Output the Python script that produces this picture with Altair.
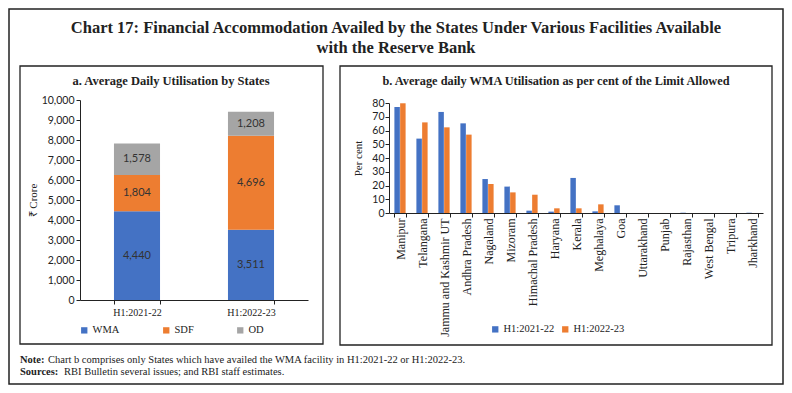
import altair as alt
import pandas as pd

# ---------------- data ----------------
periods = ["H1:2021-22", "H1:2022-23"]
facilities = ["WMA", "SDF", "OD"]
wma_values = [4440, 3511]
sdf_values = [1804, 4696]
od_values = [1578, 1208]
facility_colors = ["#4472C4", "#ED7D31", "#A5A5A5"]

states = ["Manipur", "Telangana", "Jammu and Kashmir UT", "Andhra Pradesh", "Nagaland",
          "Mizoram", "Himachal Pradesh", "Haryana", "Kerala", "Meghalaya", "Goa",
          "Uttarakhand", "Punjab", "Rajasthan", "West Bengal", "Tripura", "Jharkhand"]
pct_2021_22 = [77.1, 54.1, 73.5, 65.2, 24.7, 19.2, 1.7, 1.0, 25.5, 1.2, 5.6, 0, 0, 0.2, 0, 0, 0.2]
pct_2022_23 = [79.8, 65.9, 62.3, 57.0, 21.1, 15.0, 13.3, 3.4, 3.4, 6.3, 0, 0, 0, 0, 0, 0, 0]
series = ["H1:2021-22", "H1:2022-23"]
series_colors = ["#4472C4", "#ED7D31"]

title_lines = ["Chart 17: Financial Accommodation Availed by the States Under Various Facilities Available",
               "with the Reserve Bank"]
panel_a_title = "a. Average Daily Utilisation by States"
panel_b_title = "b. Average daily WMA Utilisation as per cent of the Limit Allowed"
note_label = "Note:"
note_text = "Chart b comprises only States which have availed the WMA facility in H1:2021-22 or H1:2022-23."
source_label = "Sources:"
source_text = "RBI Bulletin several issues; and RBI staff estimates."

SERIF = "Liberation Serif"
SANS = "Lato"
INK = "#222222"

# ---------------- tables ----------------
rows_a = []
for i, p in enumerate(periods):
    for j, (f, vals) in enumerate(zip(facilities, [wma_values, sdf_values, od_values])):
        rows_a.append({"period": p, "facility": f, "idx": j, "value": vals[i]})
df_a = pd.DataFrame(rows_a)

rows_b = []
for i, s in enumerate(states):
    rows_b.append({"state": s, "series": series[0], "pct": pct_2021_22[i]})
    rows_b.append({"state": s, "series": series[1], "pct": pct_2022_23[i]})
df_b = pd.DataFrame(rows_b)

one = pd.DataFrame({"k": [0]})


def frame(x, x2, y, y2, sw=1.3):
    return alt.Chart(one).mark_rect(fillOpacity=0, stroke=INK, strokeWidth=sw).encode(
        x=alt.value(x), x2=alt.value(x2), y=alt.value(y), y2=alt.value(y2))


def label(txt, x, y, size, bold=False, align="center", font=SERIF):
    return alt.Chart(one).mark_text(
        text=txt, font=font, fontSize=size, fontWeight="bold" if bold else "normal",
        align=align, baseline="middle", color=INK).encode(x=alt.value(x), y=alt.value(y))


# ---------------- panel a ----------------
WA, HA = 228, 200

x_axis_a = alt.Axis(title=None, labelAngle=0, tickBand="extent", labelFont=SERIF,
                    labelFontSize=10, labelColor=INK, domainColor=INK, tickColor=INK,
                    tickSize=4, labelPadding=3)
y_axis_a = alt.Axis(title="₹ Crore", values=list(range(0, 10001, 1000)), format=",.0f",
                    grid=False, labelFont=SANS, labelFontSize=10.5, labelColor=INK,
                    domainColor=INK, tickColor=INK, tickSize=4, labelPadding=2,
                    titleFont=SERIF, titleFontSize=11, titleFontWeight="normal",
                    titleColor=INK, titlePadding=3)
x_scale_a = alt.Scale(paddingInner=0.596, paddingOuter=0.298)
y_scale_a = alt.Scale(domain=[0, 10000], nice=False)

bars_a = alt.Chart(df_a).mark_bar().encode(
    x=alt.X("period:N", sort=periods, scale=x_scale_a, axis=x_axis_a),
    y=alt.Y("value:Q", stack="zero", scale=y_scale_a, axis=y_axis_a),
    color=alt.Color("facility:N", scale=alt.Scale(domain=facilities, range=facility_colors),
                    legend=alt.Legend(title=None, orient="none", legendX=-1, legendY=225,
                                      direction="horizontal", symbolType="square",
                                      symbolSize=40, symbolStrokeWidth=0, labelFont=SERIF,
                                      labelFontSize=10.5, labelColor=INK, columnPadding=41,
                                      labelOffset=3, padding=0)),
    order=alt.Order("idx:Q", sort="ascending"),
)

text_a = alt.Chart(df_a).transform_stack(
    stack="value", groupby=["period"], sort=[alt.SortField("idx", order="ascending")],
    as_=["v0", "v1"]
).transform_calculate(mid="(datum.v0 + datum.v1) / 2").mark_text(
    font=SANS, fontSize=11, color="#333333", baseline="middle"
).encode(
    x=alt.X("period:N", sort=periods, scale=x_scale_a, axis=x_axis_a),
    y=alt.Y("mid:Q", scale=y_scale_a, axis=y_axis_a),
    text=alt.Text("value:Q", format=","),
)

chart_a = alt.layer(
    frame(-71, 703, -91, 284, 1.5),
    frame(-60, 243, -34, 244),
    label(title_lines[0], 316, -72, 16.5, bold=True),
    label(title_lines[1], 316, -52, 16.5, bold=True),
    label(panel_a_title, 91, -19, 12.5, bold=True),
    label(note_label, -60, 260, 10.5, bold=True, align="left"),
    label(note_text, -32, 260, 10.5, align="left"),
    label(source_label, -60, 272, 10.5, bold=True, align="left"),
    label(source_text, -16, 272, 10.5, align="left"),
    bars_a,
    text_a,
).properties(width=WA, height=HA)

# ---------------- panel b ----------------
WB, HB = 374, 113

bars_b = alt.Chart(df_b).mark_bar().encode(
    x=alt.X("state:N", sort=states,
            scale=alt.Scale(paddingInner=0.49, paddingOuter=0.245),
            axis=alt.Axis(title=None, labelAngle=-90, tickBand="extent", labelFont=SERIF,
                          labelFontSize=12, labelColor=INK, domainColor=INK, tickColor=INK,
                          tickSize=4, labelPadding=1)),
    xOffset=alt.XOffset("series:N", sort=series,
                        scale=alt.Scale(paddingInner=0.05, paddingOuter=0)),
    y=alt.Y("pct:Q", scale=alt.Scale(domain=[0, 80], range=[HB, 3], nice=False),
            axis=alt.Axis(title="Per cent", values=list(range(0, 81, 10)), grid=False,
                          labelFont=SANS, labelFontSize=10.5, labelColor=INK,
                          domainColor=INK, tickColor=INK, tickSize=4, labelPadding=1,
                          titleFont=SERIF, titleFontSize=11, titleFontWeight="normal",
                          titleColor=INK, titlePadding=8)),
    color=alt.Color("series:N", scale=alt.Scale(domain=series, range=series_colors),
                    legend=alt.Legend(title=None, orient="none", legendX=101, legendY=224,
                                      direction="horizontal", symbolType="square",
                                      symbolSize=40, symbolStrokeWidth=0, labelFont=SERIF,
                                      labelFontSize=10.5, labelColor=INK, columnPadding=5,
                                      labelOffset=3, padding=0)),
)

chart_b = alt.layer(
    frame(-49, 383, -34, 245),
    label(panel_b_title, 167, -19, 12.3, bold=True),
    bars_b,
).properties(width=WB, height=HB)

chart = alt.hconcat(chart_a, chart_b, spacing=81, bounds="flush").resolve_scale(
    color="independent"
).configure_view(strokeWidth=0).properties(padding=0, background="white")

chart.save("out.html", embed_options={"renderer": "svg", "actions": False})
